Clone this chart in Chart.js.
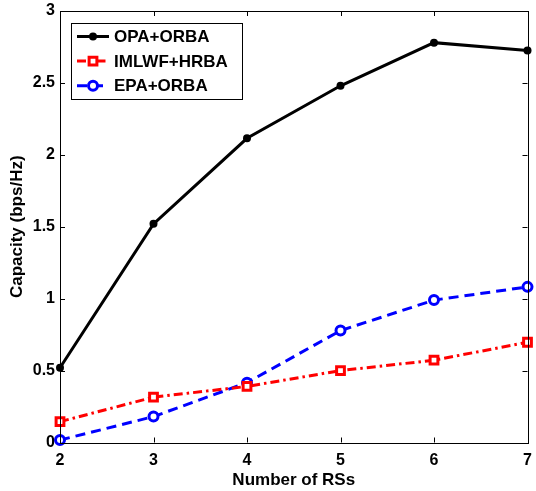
<!DOCTYPE html>
<html>
<head>
<meta charset="utf-8">
<script src="https://cdn.jsdelivr.net/npm/chart.js@4/dist/chart.umd.min.js"></script>
<style>
  html, body { margin: 0; padding: 0; background: #fff; }
  #wrap { width: 536px; height: 491px; }
</style>
</head>
<body>
<div id="wrap"><canvas id="c" width="536" height="491"></canvas></div>
<script>
// Capacity versus number of relay stations
const relayCounts = [2, 3, 4, 5, 6, 7];
const opaOrba   = [0.52, 1.52, 2.115, 2.48, 2.78, 2.725];
const imlwfHrba = [0.145, 0.315, 0.39, 0.50, 0.572, 0.697];
const epaOrba   = [0.017, 0.18, 0.416, 0.778, 0.99, 1.082];

const xTickLabels = ['2', '3', '4', '5', '6', '7'];
const yTickLabels = ['0', '0.5', '1', '1.5', '2', '2.5', '3'];
const seriesNames = ['OPA+ORBA', 'IMLWF+HRBA', 'EPA+ORBA'];

const FONT = '"Liberation Sans", Arial, Helvetica, sans-serif';

const toPoints = ys => relayCounts.map((x, i) => ({ x, y: ys[i] }));

// Box frame with inward ticks on all four sides
const framePlugin = {
  id: 'frame',
  afterDatasetsDraw(chart) {
    const { ctx, chartArea: a, scales } = chart;
    const L = 5;
    ctx.save();
    ctx.strokeStyle = '#000';
    ctx.lineWidth = 1;
    ctx.beginPath();
    scales.x.ticks.forEach(t => {
      const px = Math.round(scales.x.getPixelForValue(t.value)) + 0.5;
      ctx.moveTo(px, a.bottom); ctx.lineTo(px, a.bottom - L);
      ctx.moveTo(px, a.top); ctx.lineTo(px, a.top + L);
    });
    scales.y.ticks.forEach(t => {
      const py = Math.round(scales.y.getPixelForValue(t.value)) + 0.5;
      ctx.moveTo(a.left, py); ctx.lineTo(a.left + L, py);
      ctx.moveTo(a.right, py); ctx.lineTo(a.right - L, py);
    });
    ctx.stroke();
    ctx.strokeRect(Math.round(a.left) + 0.5, Math.round(a.top) + 0.5,
                   Math.round(a.right - a.left), Math.round(a.bottom - a.top));
    ctx.restore();
  }
};

function drawMarker(ctx, ds, x, y) {
  const r = ds.pointRadius;
  ctx.save();
  ctx.setLineDash([]);
  ctx.lineWidth = ds.pointBorderWidth;
  ctx.strokeStyle = ds.pointBorderColor;
  ctx.fillStyle = ds.pointBackgroundColor;
  ctx.beginPath();
  if (ds.pointStyle === 'rect') {
    const s = Math.SQRT1_2 * r;
    ctx.rect(x - s, y - s, 2 * s, 2 * s);
  } else {
    ctx.arc(x, y, r, 0, Math.PI * 2);
  }
  ctx.fill();
  if (ds.pointBorderWidth > 0) ctx.stroke();
  ctx.restore();
}

// Legend box in the upper-left corner of the plot
const legendPlugin = {
  id: 'boxLegend',
  afterDraw(chart) {
    const { ctx, chartArea: a } = chart;
    const bx = a.left + 11, by = a.top + 11.5, bw = 171, bh = 76;
    ctx.save();
    ctx.fillStyle = '#fff';
    ctx.fillRect(bx, by, bw, bh);
    ctx.strokeStyle = '#000';
    ctx.lineWidth = 1;
    ctx.strokeRect(Math.round(bx) + 0.5, Math.round(by) + 0.5, bw, bh);
    ctx.font = 'bold 17px ' + FONT;
    ctx.textBaseline = 'middle';
    chart.data.datasets.forEach((ds, i) => {
      const cy = by + 14 + i * 24.6;
      ctx.save();
      ctx.strokeStyle = ds.borderColor;
      ctx.lineWidth = ds.borderWidth;
      ctx.setLineDash(ds.borderDash || []);
      ctx.beginPath();
      ctx.moveTo(bx + 6, cy);
      ctx.lineTo(bx + 38, cy);
      ctx.stroke();
      ctx.restore();
      drawMarker(ctx, ds, bx + 22, cy);
      ctx.fillStyle = '#000';
      ctx.fillText(ds.label, bx + 43, cy + 1);
    });
    ctx.restore();
  }
};

new Chart(document.getElementById('c'), {
  type: 'line',
  data: {
    datasets: [
      {
        label: seriesNames[0],
        data: toPoints(opaOrba),
        borderColor: '#000',
        borderWidth: 3,
        pointStyle: 'circle',
        pointRadius: 4,
        pointBorderWidth: 0,
        pointBackgroundColor: '#000',
        pointBorderColor: '#000',
        clip: false
      },
      {
        label: seriesNames[1],
        data: toPoints(imlwfHrba),
        borderColor: '#ff0000',
        borderWidth: 3,
        borderDash: [9, 4, 2.5, 4],
        pointStyle: 'rect',
        pointRadius: 5.5,
        pointBorderWidth: 3,
        pointBackgroundColor: '#fff',
        pointBorderColor: '#ff0000',
        clip: false
      },
      {
        label: seriesNames[2],
        data: toPoints(epaOrba),
        borderColor: '#0000ff',
        borderWidth: 3,
        borderDash: [10, 6],
        pointStyle: 'circle',
        pointRadius: 4.5,
        pointBorderWidth: 3,
        pointBackgroundColor: '#fff',
        pointBorderColor: '#0000ff',
        clip: false
      }
    ]
  },
  options: {
    responsive: false,
    animation: false,
    events: [],
    layout: { padding: { top: 11, right: 2, left: 0, bottom: 0 } },
    elements: { line: { tension: 0, fill: false } },
    plugins: { legend: { display: false }, tooltip: { enabled: false } },
    scales: {
      x: {
        type: 'linear',
        min: 2, max: 7,
        afterFit(s) { s.height = 48.5; s.paddingLeft = 0; s.paddingRight = 0; },
        border: { display: false },
        grid: { display: false, drawTicks: false },
        ticks: {
          stepSize: 1,
          padding: 8,
          color: '#000',
          font: { family: FONT, size: 16, weight: 'bold' },
          callback: (v) => xTickLabels[relayCounts.indexOf(v)] ?? ''
        },
        title: {
          display: true,
          text: 'Number of RSs',
          color: '#000',
          padding: { top: 6, bottom: 0 },
          font: { family: FONT, size: 17, weight: 'bold' }
        }
      },
      y: {
        type: 'linear',
        min: 0, max: 3,
        afterFit(s) { s.width = 60; s.paddingTop = 0; s.paddingBottom = 0; },
        border: { display: false },
        grid: { display: false, drawTicks: false },
        ticks: {
          stepSize: 0.5,
          padding: 5,
          color: '#000',
          font: { family: FONT, size: 16, weight: 'bold' },
          callback: (v) => yTickLabels[Math.round(v * 2)] ?? ''
        },
        title: {
          display: true,
          text: 'Capacity (bps/Hz)',
          color: '#000',
          padding: { top: 7, bottom: 0 },
          font: { family: FONT, size: 17, weight: 'bold' }
        }
      }
    }
  },
  plugins: [framePlugin, legendPlugin]
});
</script>
</body>
</html>
